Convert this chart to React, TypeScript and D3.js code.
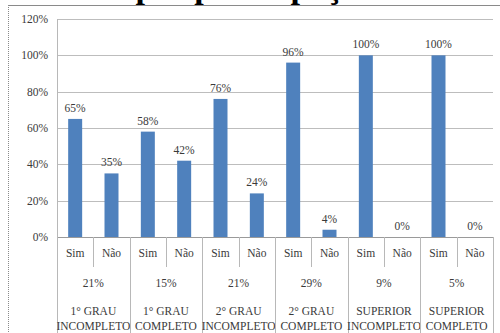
import React, { useEffect } from "react";
import * as d3 from "d3";

const groups = ["1° GRAU INCOMPLETO", "1° GRAU COMPLETO", "2° GRAU INCOMPLETO", "2° GRAU COMPLETO", "SUPERIOR INCOMPLETO", "SUPERIOR COMPLETO"];
const groupLine1 = ["1° GRAU", "1° GRAU", "2° GRAU", "2° GRAU", "SUPERIOR", "SUPERIOR"];
const groupLine2 = ["INCOMPLETO", "COMPLETO", "INCOMPLETO", "COMPLETO", "INCOMPLETO", "COMPLETO"];
const groupShare = ["21%", "15%", "21%", "29%", "9%", "5%"];
const answers = ["Sim", "Não"];
const simValues = [0.65, 0.58, 0.76, 0.96, 1.0, 1.0];
const naoValues = [0.35, 0.42, 0.24, 0.04, 0.0, 0.0];
const yTicks = [0, 0.2, 0.4, 0.6, 0.8, 1.0, 1.2];
const titleText = "Escolaridade por participação";

const W = 500;
const H = 333;
const left = 57;
const right = 493;
const yTop = 19;
const yBase = 237;
const FONT = '"Liberation Serif", serif';

export default function App() {
  useEffect(() => {
    document.body.style.margin = "0";
  }, []);

  const bars = groups.flatMap((g, gi) => [
    { key: `${gi}-0`, group: gi, ans: 0, value: simValues[gi] },
    { key: `${gi}-1`, group: gi, ans: 1, value: naoValues[gi] },
  ]);

  const pInner = 0.615;
  const x = d3
    .scaleBand<string>()
    .domain(bars.map((b) => b.key))
    .range([left, right])
    .paddingInner(pInner)
    .paddingOuter(pInner / 2);
  const step = x.step();
  const slot = d3.scaleLinear().domain([0, bars.length]).range([left, right]);
  const y = d3.scaleLinear().domain([0, 1.2]).range([yBase, yTop]);
  const fmt = d3.format(".0%");

  const textColor = "#3a3a3a";
  const gridColor = "#bdbdbd";
  const boxColor = "#b8b8b8";
  const fs = 11.5;
  const ts = { fontFamily: FONT };

  return (
    <svg width={W} height={H} style={{ display: "block" }}>
      <rect x={0} y={0} width={W} height={H} fill="#fff" />
      {/* cropped title (only descenders visible, as in the reference) */}
      <text x={-62} y={-2.5} textAnchor="start" fontSize={34} fontWeight="bold" fill="#000" style={ts}>
        {titleText}
      </text>
      {/* chart frame */}
      <line x1={8} x2={W} y1={5.5} y2={5.5} stroke="#8a8a8a" strokeWidth={1} />
      <line x1={8.5} x2={8.5} y1={5} y2={H} stroke="#8a8a8a" strokeWidth={1} strokeDasharray="1,1" />

      {/* gridlines */}
      {yTicks.slice(1).map((t) => (
        <line key={t} x1={left} x2={right} y1={Math.round(y(t)) + 0.5} y2={Math.round(y(t)) + 0.5} stroke={gridColor} />
      ))}
      {/* y tick labels */}
      {yTicks.map((t) => (
        <text key={t} x={48} y={y(t) + 4} textAnchor="end" fontSize={fs} fill={textColor} style={ts}>
          {fmt(t)}
        </text>
      ))}

      {/* bars */}
      {bars.map((b) => (
        <rect key={b.key} x={x(b.key)} y={y(b.value)} width={x.bandwidth()} height={yBase - y(b.value)} fill="#4F81BD" />
      ))}
      {/* data labels */}
      {bars.map((b) => (
        <text key={b.key} x={(x(b.key) as number) + x.bandwidth() / 2} y={y(b.value) - 7} textAnchor="middle" fontSize={fs} fill={textColor} style={ts}>
          {fmt(b.value)}
        </text>
      ))}

      {/* axis box */}
      <line x1={left} x2={right} y1={yBase + 0.5} y2={yBase + 0.5} stroke="#9a9a9a" />
      <line x1={left + 0.5} x2={left + 0.5} y1={yTop} y2={H} stroke={boxColor} />
      <line x1={right + 0.5} x2={right + 0.5} y1={yBase} y2={H} stroke={boxColor} />
      {groups.map((g, gi) => (
        <g key={g}>
          {gi > 0 && (
            <line x1={Math.round(slot(gi * 2)) + 0.5} x2={Math.round(slot(gi * 2)) + 0.5} y1={yBase} y2={H} stroke={boxColor} />
          )}
          <line x1={Math.round(slot(gi * 2 + 1)) + 0.5} x2={Math.round(slot(gi * 2 + 1)) + 0.5} y1={yBase} y2={267} stroke={boxColor} />
          {answers.map((a, ai) => (
            <text key={a} x={slot(gi * 2 + ai) + step / 2} y={257} textAnchor="middle" fontSize={fs} fill={textColor} style={ts}>
              {a}
            </text>
          ))}
          <text x={slot(gi * 2 + 1)} y={287} textAnchor="middle" fontSize={fs} fill={textColor} style={ts}>
            {groupShare[gi]}
          </text>
          <text x={slot(gi * 2 + 1)} y={315} textAnchor="middle" fontSize={fs} fill={textColor} style={ts}>
            {groupLine1[gi]}
          </text>
          <text x={slot(gi * 2 + 1)} y={330} textAnchor="middle" fontSize={fs} fill={textColor} style={ts}>
            {groupLine2[gi]}
          </text>
        </g>
      ))}
    </svg>
  );
}
